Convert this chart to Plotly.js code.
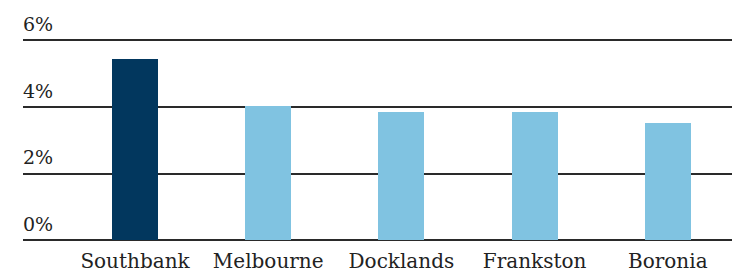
<!DOCTYPE html>
<html>
<head>
<meta charset="utf-8">
<script src="https://cdn.plot.ly/plotly-3.0.1.min.js"></script>
<style>html,body{margin:0;padding:0;background:#fff;}#chart{width:732px;height:279px;}</style>
</head>
<body>
<div id="chart"></div>
<script>
const suburbs = ["Southbank", "Melbourne", "Docklands", "Frankston", "Boronia"];
const values = [5.43, 4.02, 3.84, 3.84, 3.51];
const barColors = ["#02375e", "#80c3e1", "#80c3e1", "#80c3e1", "#80c3e1"];
const yTickVals = [0, 2, 4, 6];
const yTickText = ["0%", "2%", "4%", "6%"];

const trace = {
  type: "bar",
  x: suburbs,
  y: values,
  marker: {color: barColors, line: {width: 0}},
  width: 0.345,
  hoverinfo: "none"
};

const layout = {
  width: 732, height: 279,
  margin: {l: 23, r: 0, t: 7.05, b: 37.34, pad: 0},
  paper_bgcolor: "#fff", plot_bgcolor: "#fff",
  showlegend: false,
  font: {family: "DejaVu Serif, serif", size: 20, color: "#222"},
  xaxis: {
    type: "category",
    range: [-0.841, 4.482],
    showgrid: false, zeroline: false, showline: false, ticks: "",
    ticklabelstandoff: 5,
    tickfont: {family: "DejaVu Serif, serif", size: 20, color: "#222"}
  },
  yaxis: {
    range: [-0.05, 7.0],
    tickvals: yTickVals, ticktext: yTickText,
    showgrid: true, gridcolor: "#2a2a2a", gridwidth: 1.8,
    zeroline: false, showline: false, ticks: "",
    ticklabelposition: "inside",
    ticklabelshift: -16,
    ticklabelstandoff: -3,
    tickfont: {family: "DejaVu Serif, serif", size: 19, color: "#222"}
  },
  bargap: 0
};

Plotly.newPlot("chart", [trace], layout, {displayModeBar: false, staticPlot: true});
</script>
</body>
</html>
